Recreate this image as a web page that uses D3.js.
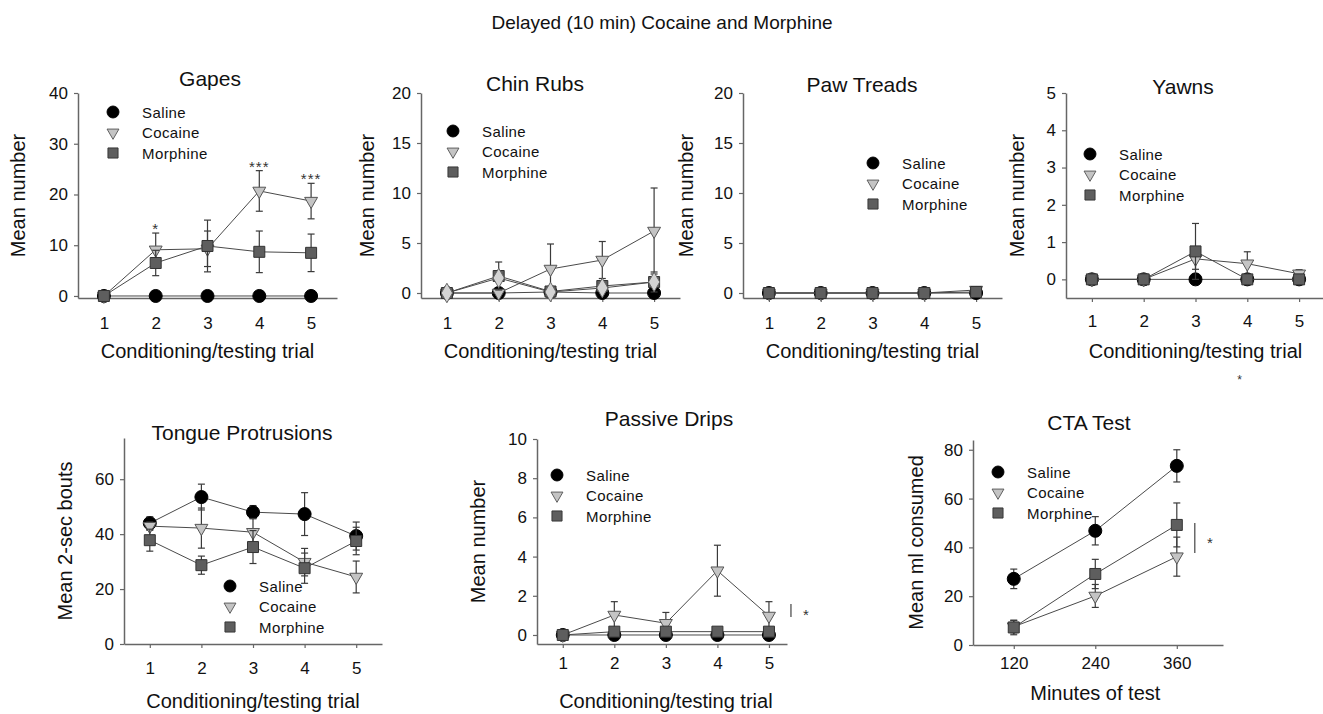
<!DOCTYPE html>
<html>
<head>
<meta charset="utf-8">
<script src="https://cdn.jsdelivr.net/npm/d3@7"></script>
<style>
    body { margin: 0; background: #fff; }
    svg { display: block; font-family: "Liberation Sans", Arial, sans-serif; }
</style>
</head>
<body>
<div class="js-figure"></div>
<script>
'use strict';

// ---- data ----
const figureTitle = 'Delayed (10 min) Cocaine and Morphine';
const groupNames = ['Saline', 'Cocaine', 'Morphine'];
const trials = [1, 2, 3, 4, 5];
const testMinutes = [120, 240, 360];

// rows: Saline, Cocaine, Morphine
const gapesMean = [
    [0, 0, 0, 0, 0],
    [0, 9.1, 9.3, 20.7, 18.7],
    [0, 6.5, 9.85, 8.7, 8.5]
];
const gapesErr = [
    [0, 0, 0, 0, 0],
    [0, 3.3, 3.5, 4.0, 3.5],
    [0, 2.5, 5.1, 4.1, 3.7]
];
const gapesSig = ['', '*', '', '***', '***'];

const chinRubsMean = [
    [0, 0, 0.1, 0, 0],
    [0, 0, 2.4, 3.3, 6.2],
    [0, 1.7, 0.15, 0.7, 1.1]
];
const chinRubsErr = [
    [0, 0, 0, 0, 0],
    [0, 0, 2.5, 1.85, 4.3],
    [0, 1.4, 0.1, 0.3, 1.0]
];
const chinRubsDiamond = [0, 1.5, 0.1, 0.5, 1.1];

const pawTreadsMean = [
    [0, 0, 0, 0, 0],
    [0, 0, 0, 0, 0.3],
    [0, 0, 0, 0, 0.1]
];
const pawTreadsErr = [
    [0, 0, 0, 0, 0],
    [0, 0, 0, 0, 0.1],
    [0, 0, 0, 0, 0]
];

const yawnsMean = [
    [0, 0, 0, 0, 0],
    [0, 0, 0.55, 0.42, 0.15],
    [0, 0, 0.75, 0, 0]
];
const yawnsErr = [
    [0, 0, 0, 0, 0],
    [0.15, 0.15, 0.28, 0.32, 0.11],
    [0, 0, 0.75, 0, 0]
];

const tongueMean = [
    [44, 53.5, 48, 47.3, 39.3],
    [42.9, 42.2, 40.7, 29.8, 24.4],
    [37.8, 28.7, 35.3, 27.6, 37.5]
];
const tongueErr = [
    [2.3, 4.7, 2.4, 7.8, 5.1],
    [1.5, 7.3, 5.0, 5.0, 5.8],
    [4.0, 3.3, 6.0, 5.5, 5.0]
];

const dripsMean = [
    [0, 0, 0, 0, 0],
    [0, 1.02, 0.6, 3.28, 0.97],
    [0, 0.17, 0.17, 0.17, 0.17]
];
const dripsErr = [
    [0, 0, 0, 0, 0],
    [0.1, 0.68, 0.55, 1.3, 0.73],
    [0, 0, 0, 0, 0]
];
const dripsSigBar = [0.92, 1.58];

const ctaMean = [
    [27.1, 46.8, 73.4],
    [7.5, 20.1, 36.2],
    [7.2, 29.1, 49.2]
];
const ctaErr = [
    [4.0, 5.8, 6.6],
    [2.5, 4.7, 8.0],
    [3.0, 6.0, 9.0]
];
const ctaSigBar = [37.7, 50];

// tick labels
const gapesTicks = [0, 10, 20, 30, 40];
const twentyTicks = [0, 5, 10, 15, 20];
const yawnsTicks = [0, 1, 2, 3, 4, 5];
const tongueTicks = [0, 20, 40, 60];
const dripsTicks = [0, 2, 4, 6, 8, 10];
const ctaTicks = [0, 20, 40, 60, 80];

// ---- layout ----
const trialLabel = 'Conditioning/testing trial';

const panels = [
    { title: 'Gapes', titleX: 210, titleY: 86, left: 78, right: 337, top: 93, bottom: 298,
      xDomain: [0.5, 5.5], yDomain: [-0.4, 40], xValues: trials, yTicks: gapesTicks,
      mean: gapesMean, err: gapesErr, xPad: 15, yLabel: 'Mean number', yLabelX: 18,
      xLabel: trialLabel, xLabelY: 358, legend: { x: 113, y: 112 }, sig: gapesSig },
    { title: 'Chin Rubs', titleX: 535, titleY: 91, left: 421, right: 680, top: 93, bottom: 298,
      xDomain: [0.5, 5.5], yDomain: [-0.5, 20], xValues: trials, yTicks: twentyTicks,
      mean: chinRubsMean, err: chinRubsErr, xPad: 15, yLabel: 'Mean number', yLabelX: 367,
      xLabel: trialLabel, xLabelY: 358, legend: { x: 453, y: 131 }, extra: chinRubsDiamond },
    { title: 'Paw Treads', titleX: 862, titleY: 92, left: 743, right: 1002, top: 93, bottom: 298,
      xDomain: [0.5, 5.5], yDomain: [-0.5, 20], xValues: trials, yTicks: twentyTicks,
      mean: pawTreadsMean, err: pawTreadsErr, xPad: 15, yLabel: 'Mean number', yLabelX: 686,
      xLabel: trialLabel, xLabelY: 358, legend: { x: 873, y: 163 } },
    { title: 'Yawns', titleX: 1183, titleY: 94, left: 1066, right: 1325, top: 93, bottom: 298,
      xDomain: [0.5, 5.5], yDomain: [-0.5, 5], xValues: trials, yTicks: yawnsTicks,
      mean: yawnsMean, err: yawnsErr, xPad: 13, yLabel: 'Mean number', yLabelX: 1017,
      xLabel: trialLabel, xLabelY: 358, legend: { x: 1090, y: 154 }, footStar: true },
    { title: 'Tongue Protrusions', titleX: 242, titleY: 440, left: 124, right: 382, top: 438, bottom: 644,
      xDomain: [0.5, 5.5], yDomain: [0, 75], xValues: trials, yTicks: tongueTicks,
      mean: tongueMean, err: tongueErr, xPad: 14, yLabel: 'Mean 2-sec bouts', yLabelX: 65,
      xLabel: trialLabel, xLabelY: 708, legend: { x: 230, y: 586 } },
    { title: 'Passive Drips', titleX: 669, titleY: 426, left: 537, right: 787, top: 439, bottom: 644,
      xDomain: [0.5, 5.35], yDomain: [-0.46, 10], xValues: trials, yTicks: dripsTicks,
      mean: dripsMean, err: dripsErr, xPad: 9, yLabel: 'Mean number', yLabelX: 478,
      xLabel: trialLabel, xLabelY: 708, legend: { x: 557, y: 475 }, sigBar: dripsSigBar, sigBarDx: 22 },
    { title: 'CTA Test', titleX: 1089, titleY: 430, left: 973, right: 1223, top: 440, bottom: 645,
      xDomain: [60, 428], yDomain: [0, 84], xValues: testMinutes, yTicks: ctaTicks,
      mean: ctaMean, err: ctaErr, xPad: 8, yLabel: 'Mean ml consumed', yLabelX: 916,
      xLabel: 'Minutes of test', xLabelY: 700, legend: { x: 998, y: 472 }, sigBar: ctaSigBar, sigBarDx: 18 }
];

const markerStyle = [
    { path: d3.symbol().type(d3.symbolCircle).size(133)(), fill: '#000', stroke: '#000', rotate: 0 },
    { path: d3.symbol().type(d3.symbolTriangle).size(72)(), fill: '#c4c4c4', stroke: '#555', rotate: 180 },
    { path: d3.symbol().type(d3.symbolSquare).size(121)(), fill: '#5e5e5e', stroke: '#333', rotate: 0 }
];
const diamondPath = d3.symbol().type(d3.symbolDiamond).size(110)();

const axisColor = '#666';
const lineColor = '#4a4a4a';

// create svg container
const svg = d3.select('.js-figure')
    .append('svg')
    .attr('width', 1323)
    .attr('height', 714);

svg.append('text')
    .attr('x', 662)
    .attr('y', 29)
    .attr('text-anchor', 'middle')
    .attr('font-size', 19)
    .attr('fill', '#111')
    .text(figureTitle);

const drawPanel = (p) => {
    const x = d3.scaleLinear().domain(p.xDomain).range([p.left, p.right]);
    const y = d3.scaleLinear().domain(p.yDomain).range([p.bottom, p.top]);
    const g = svg.append('g');

    // axes
    const xAxisGroup = g.append('g')
        .attr('transform', `translate(0, ${p.bottom})`)
        .call(d3.axisBottom(x).tickValues(p.xValues).tickFormat(d3.format('d'))
            .tickSize(4).tickSizeOuter(0).tickPadding(p.xPad));
    const yAxisGroup = g.append('g')
        .attr('transform', `translate(${p.left}, 0)`)
        .call(d3.axisLeft(y).tickValues(p.yTicks).tickFormat(d3.format('d'))
            .tickSize(4).tickSizeOuter(0).tickPadding(6));

    [xAxisGroup, yAxisGroup].forEach(ax => {
        ax.select('.domain').attr('stroke', axisColor).attr('stroke-width', 1.5);
        ax.selectAll('.tick line').attr('stroke', axisColor).attr('stroke-width', 1.2);
        ax.selectAll('.tick text')
            .attr('font-size', 17)
            .attr('fill', '#111')
            .attr('font-family', '"Liberation Sans", Arial, sans-serif');
    });

    // titles
    g.append('text')
        .attr('x', p.titleX).attr('y', p.titleY)
        .attr('text-anchor', 'middle').attr('font-size', 21).attr('fill', '#111')
        .text(p.title);

    const xMid = (x(p.xValues[0]) + x(p.xValues[p.xValues.length - 1])) / 2;
    g.append('text')
        .attr('x', xMid).attr('y', p.xLabelY)
        .attr('text-anchor', 'middle').attr('font-size', 20).attr('fill', '#111')
        .text(p.xLabel);

    const yMid = (p.top + p.bottom) / 2;
    g.append('text')
        .attr('transform', `translate(${p.yLabelX + 7}, ${yMid}) rotate(-90)`)
        .attr('text-anchor', 'middle').attr('font-size', 20).attr('fill', '#111')
        .text(p.yLabel);

    const line = d3.line()
        .x(d => x(d.x))
        .y(d => y(d.m));

    // series: line, error bars, markers
    const drawSeries = (means, errs, style) => {
        const pts = p.xValues.map((xv, i) => ({ x: xv, m: means[i], e: errs ? errs[i] : 0 }));

        g.append('path')
            .datum(pts)
            .attr('d', line)
            .attr('fill', 'none')
            .attr('stroke', lineColor)
            .attr('stroke-width', 1);

        const bars = g.append('g')
            .attr('stroke', '#3a3a3a')
            .attr('stroke-width', 1.2)
            .selectAll('g')
            .data(pts.filter(d => d.e > 0))
            .enter()
            .append('g');
        bars.append('line')
            .attr('x1', d => x(d.x)).attr('x2', d => x(d.x))
            .attr('y1', d => y(d.m - d.e)).attr('y2', d => y(d.m + d.e));
        bars.append('line')
            .attr('x1', d => x(d.x) - 3.5).attr('x2', d => x(d.x) + 3.5)
            .attr('y1', d => y(d.m + d.e)).attr('y2', d => y(d.m + d.e));
        bars.append('line')
            .attr('x1', d => x(d.x) - 3.5).attr('x2', d => x(d.x) + 3.5)
            .attr('y1', d => y(d.m - d.e)).attr('y2', d => y(d.m - d.e));

        g.selectAll(null)
            .data(pts)
            .enter()
            .append('path')
            .attr('d', style.path)
            .attr('transform', d => `translate(${x(d.x)}, ${y(d.m)}) rotate(${style.rotate})`)
            .attr('fill', style.fill)
            .attr('stroke', style.stroke)
            .attr('stroke-width', 1);
    };

    p.mean.forEach((means, k) => drawSeries(means, p.err[k], markerStyle[k]));

    if (p.extra) {
        drawSeries(p.extra, null, { path: diamondPath, fill: '#d4d4d4', stroke: '#666', rotate: 0 });
    }

    // significance stars above the cocaine error bars
    if (p.sig) {
        g.selectAll(null)
            .data(p.sig)
            .enter()
            .append('text')
            .attr('x', (d, i) => x(p.xValues[i]))
            .attr('y', (d, i) => y(p.mean[1][i] + p.err[1][i]) + 1)
            .attr('text-anchor', 'middle')
            .attr('font-size', 15)
            .attr('letter-spacing', 1)
            .attr('fill', '#333')
            .text(d => d);
    }

    if (p.sigBar) {
        const bx = x(p.xValues[p.xValues.length - 1]) + p.sigBarDx;
        g.append('line')
            .attr('x1', bx).attr('x2', bx)
            .attr('y1', y(p.sigBar[0])).attr('y2', y(p.sigBar[1]))
            .attr('stroke', '#444').attr('stroke-width', 1.2);
        g.append('text')
            .attr('x', bx + 15)
            .attr('y', (y(p.sigBar[0]) + y(p.sigBar[1])) / 2 + 10)
            .attr('text-anchor', 'middle').attr('font-size', 15).attr('fill', '#333')
            .text('*');
    }

    if (p.footStar) {
        g.append('text')
            .attr('x', xMid + 44).attr('y', p.xLabelY + 26)
            .attr('text-anchor', 'middle').attr('font-size', 12).attr('fill', '#333')
            .text('*');
    }

    // legend
    const legend = g.append('g')
        .attr('transform', `translate(${p.legend.x}, ${p.legend.y})`);
    groupNames.forEach((name, k) => {
        const style = markerStyle[k];
        legend.append('path')
            .attr('d', style.path)
            .attr('transform', `translate(0, ${k * 20.5}) rotate(${style.rotate}) scale(0.92)`)
            .attr('fill', style.fill)
            .attr('stroke', style.stroke);
        legend.append('text')
            .attr('x', 29)
            .attr('y', k * 20.5 + 5.5)
            .attr('font-size', 15)
            .attr('letter-spacing', 0.4)
            .attr('fill', '#111')
            .text(name);
    });
};

panels.forEach(drawPanel);
</script>
</body>
</html>
